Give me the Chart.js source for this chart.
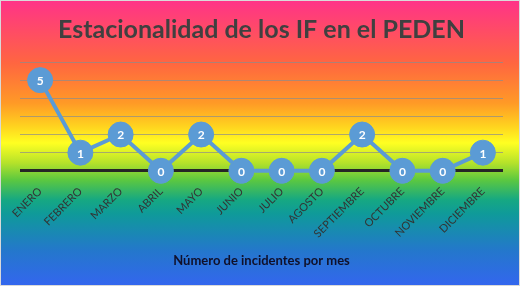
<!DOCTYPE html>
<html>
<head>
<meta charset="utf-8">
<script src="https://cdn.jsdelivr.net/npm/chart.js@4.4.1/dist/chart.umd.min.js"></script>
<style>
  html, body { margin: 0; padding: 0; }
  #wrap {
    position: relative;
    width: 518px;
    height: 284px;
    border: 1px solid #d9d9d9;
    background: linear-gradient(to bottom,
      #ff3388 0%, #ff6640 22%, #ff9a26 36%, #ffd21f 44%, #ffff22 50%,
      #b5e22a 57%, #5cc840 63%, #16a882 70%, #0f9a9a 75%, #2477cc 88%, #3366ee 100%);
  }
  canvas { position: absolute; left: 0; top: 0; }
</style>
</head>
<body>
<div id="wrap"><canvas id="chart" width="518" height="284"></canvas></div>
<script>
// datos del grafico
const months = ['ENERO', 'FEBRERO', 'MARZO', 'ABRIL', 'MAYO', 'JUNIO', 'JULIO',
    'AGOSTO', 'SEPTIEMBRE', 'OCTUBRE', 'NOVIEMBRE', 'DICIEMBRE'];
const incidents = [5, 1, 2, 0, 2, 0, 0, 0, 2, 0, 0, 1];
const chartTitle = 'Estacionalidad de los IF en el PEDEN';
const axisTitle = 'Número de incidentes por mes';

const blue = '#5b9bd5';
const fontFamily = 'Lato, "Open Sans", sans-serif';

// dibuja el valor dentro de cada marcador
const pointLabels = {
    id: 'pointLabels',
    afterDatasetsDraw(chart) {
        const ctx = chart.ctx;
        const meta = chart.getDatasetMeta(0);
        ctx.save();
        ctx.fillStyle = '#ffffff';
        ctx.font = 'bold 12px ' + fontFamily;
        ctx.textAlign = 'center';
        ctx.textBaseline = 'middle';
        meta.data.forEach((pt, i) => {
            ctx.fillText(String(incidents[i]), pt.x, pt.y + 1);
        });
        ctx.restore();
    }
};

const ctx = document.getElementById('chart').getContext('2d');

const chart = new Chart(ctx, {
    type: 'line',
    data: {
        labels: months,
        datasets: [{
            data: incidents,
            borderColor: blue,
            borderWidth: 4,
            pointBackgroundColor: blue,
            pointBorderColor: blue,
            pointRadius: 12.5,
            pointBorderWidth: 1,
            tension: 0,
            fill: false,
            clip: false
        }]
    },
    options: {
        responsive: false,
        animation: false,
        layout: { padding: { left: 19, right: 16, top: 0, bottom: 12 } },
        plugins: {
            legend: { display: false },
            tooltip: { enabled: false },
            title: {
                display: true,
                text: chartTitle,
                color: '#404040',
                font: { family: fontFamily, size: 25, weight: 'bold' },
                padding: { top: 14, bottom: 17 }
            }
        },
        scales: {
            x: {
                offset: true,
                grid: { display: false },
                border: { display: false },
                ticks: {
                    minRotation: 45,
                    maxRotation: 45,
                    color: '#333333',
                    font: { family: fontFamily, size: 11 },
                    padding: 6
                },
                title: {
                    display: true,
                    text: axisTitle,
                    color: '#10102a',
                    font: { family: fontFamily, size: 13, weight: 'bold' },
                    padding: { top: 7 }
                }
            },
            y: {
                min: 0,
                max: 6,
                ticks: { display: false, stepSize: 1 },
                border: { display: false },
                grid: {
                    drawTicks: false,
                    color: (c) => c.tick.value === 0 ? '#262626' : 'rgba(140,140,140,0.7)',
                    lineWidth: (c) => c.tick.value === 0 ? 3 : 1
                }
            }
        }
    },
    plugins: [pointLabels]
});
</script>
</body>
</html>
